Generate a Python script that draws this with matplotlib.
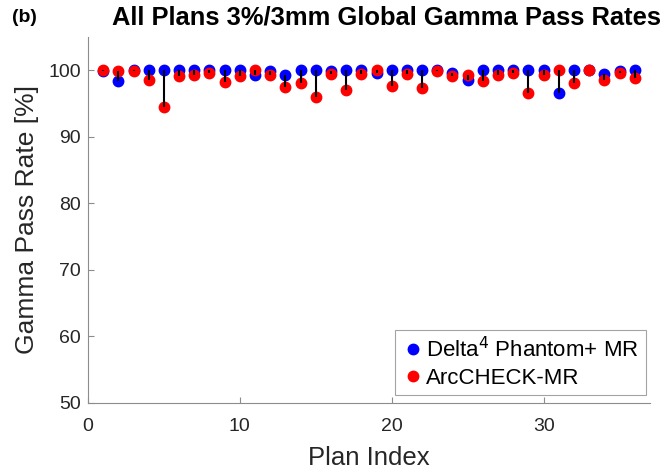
import matplotlib
matplotlib.use('Agg')
import matplotlib.pyplot as plt
import numpy as np

plt.rcParams['font.family'] = ['Liberation Sans', 'DejaVu Sans']

# Gamma pass rates (%) per plan, 3%/3mm global
plan_index = np.arange(1, 37)
delta4 = [99.9, 98.3, 100.0, 100.0, 100.0, 100.0, 100.0, 100.0, 100.0, 100.0,
          99.3, 99.8, 99.2, 100.0, 100.0, 99.8, 100.0, 100.0, 99.5, 100.0,
          100.0, 100.0, 100.0, 99.6, 98.5, 100.0, 100.0, 100.0, 100.0, 100.0,
          96.5, 100.0, 100.0, 99.4, 99.9, 100.0]
arccheck = [100.0, 99.8, 99.8, 98.5, 94.5, 99.1, 99.3, 99.6, 98.2, 99.1,
            100.0, 99.2, 97.5, 98.1, 96.0, 99.4, 97.0, 99.4, 100.0, 97.6,
            99.4, 97.3, 99.8, 99.1, 99.3, 98.3, 99.3, 99.6, 96.5, 99.3,
            100.0, 98.0, 100.0, 98.5, 99.6, 98.8]

fig = plt.figure(figsize=(6.69, 4.72), dpi=100)
ax = fig.add_axes([0.1315, 0.1462, 0.840, 0.776])

ax.plot(plan_index, delta4, 'o', color='#0000ff', markersize=7.5,
        label='Delta$^4$ Phantom+ MR', zorder=2)
ax.plot(plan_index, arccheck, 'o', color='#ff0000', markersize=7.5,
        label='ArcCHECK-MR', zorder=3)
ax.vlines(plan_index, delta4, arccheck, color='black', linewidth=1.5, zorder=4)

ax.set_xlim(0, 37)
ax.set_ylim(50, 105)
ax.set_xticks([0, 10, 20, 30])
ax.set_yticks([50, 60, 70, 80, 90, 100])

for s in ['top', 'right']:
    ax.spines[s].set_visible(False)
for s in ['left', 'bottom']:
    ax.spines[s].set_color('#8c8c8c')
    ax.spines[s].set_linewidth(0.8)
ax.tick_params(direction='in', colors='#8c8c8c', labelcolor='#262626',
               labelsize=14, length=4)
ax.tick_params(axis='x', pad=11)
ax.tick_params(axis='y', pad=5)

ax.set_xlabel('Plan Index', fontsize=18.5, color='#262626', labelpad=8)
ax.set_ylabel('Gamma Pass Rate [%]', fontsize=19, color='#262626', labelpad=7)

fig.text(0.578, 0.962, 'All Plans 3%/3mm Global Gamma Pass Rates',
         fontsize=18.4, fontweight='bold', ha='center', va='center')
fig.text(0.018, 0.962, '(b)', fontsize=14, fontweight='bold', va='center')

leg = ax.legend(loc='lower right', fontsize=16, handletextpad=0.1,
                handlelength=1.0, borderpad=0.3, labelspacing=0.25,
                borderaxespad=0, fancybox=False,
                bbox_to_anchor=(0.9925, 0.0205))
leg.get_frame().set_edgecolor('#8c8c8c')
leg.get_frame().set_linewidth(0.8)

fig.savefig('out.png', dpi=100, facecolor='white')
